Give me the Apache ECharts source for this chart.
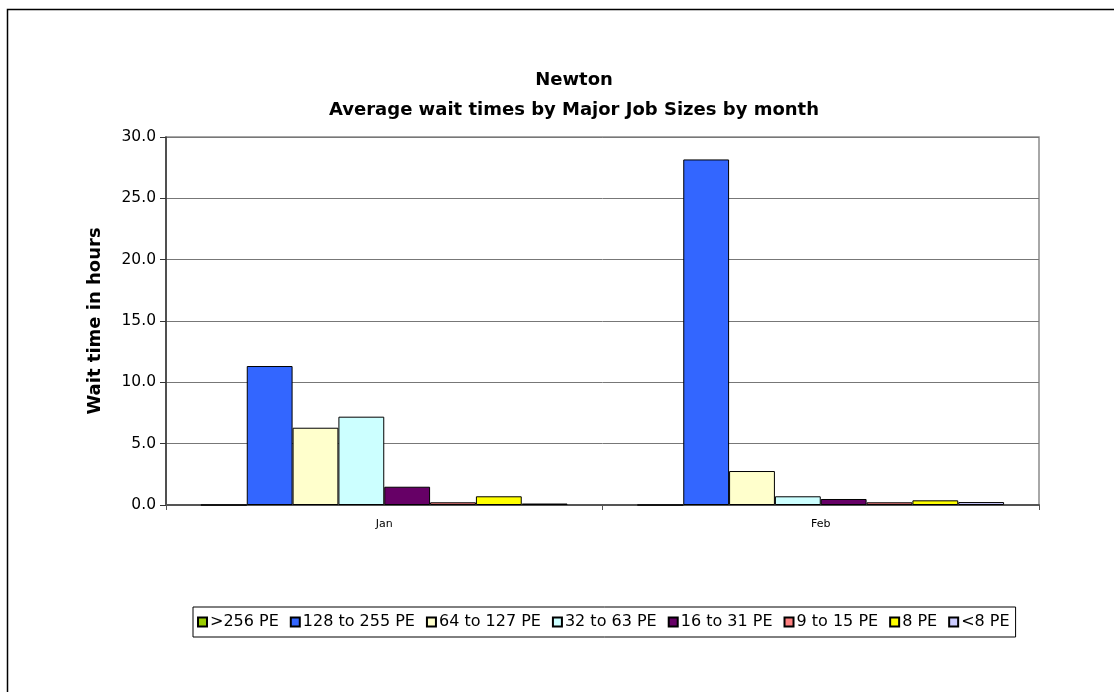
<!DOCTYPE html>
<html>
<head>
<meta charset="utf-8">
<script src="https://cdn.jsdelivr.net/npm/echarts@6/dist/echarts.min.js"></script>
<style>
html,body{margin:0;padding:0;background:#fff;}
#chart{width:1114px;height:692px;}
</style>
</head>
<body>
<div id="chart"></div>
<script>
const categories = ['Jan', 'Feb'];
const seriesNames = ['>256 PE', '128 to 255 PE', '64 to 127 PE', '32 to 63 PE', '16 to 31 PE', '9 to 15 PE', '8 PE', '<8 PE'];
const pe256 = [0, 0];
const pe128 = [11.33, 28.17];
const pe64 = [6.30, 2.77];
const pe32 = [7.20, 0.71];
const pe16 = [1.49, 0.49];
const pe9 = [0.22, 0.22];
const pe8 = [0.71, 0.38];
const peLt8 = [0.12, 0.24];
const yTicks = [0, 5, 10, 15, 20, 25, 30];
const titleLines = ['Newton', 'Average wait times by Major Job Sizes by month'];
const yAxisTitle = 'Wait time in hours';

const seriesData = [pe256, pe128, pe64, pe32, pe16, pe9, pe8, peLt8];
const colors = ['#99CC00', '#3366FF', '#FFFFCC', '#CCFFFF', '#660066', '#FF8080', '#FFFF00', '#CCCCFF'];
const FONT = '"DejaVu Sans", "Liberation Sans", Arial, sans-serif';

const chart = echarts.init(document.getElementById('chart'), null, {renderer: 'canvas'});
chart.setOption({
  backgroundColor: '#fff',
  animation: false,
  graphic: [
    {type: 'rect', shape: {x: 7.5, y: 9.5, width: 1120, height: 700}, style: {fill: 'none', stroke: '#000', lineWidth: 1.5}, z: -1},
    {type: 'text', x: 574, y: 80, style: {text: titleLines[0], align: 'center', verticalAlign: 'middle', font: 'bold 18px ' + FONT, fill: '#000'}},
    {type: 'text', x: 574, y: 110, style: {text: titleLines[1], align: 'center', verticalAlign: 'middle', font: 'bold 18px ' + FONT, fill: '#000'}}
  ],
  grid: {left: 166, right: 75, top: 137, bottom: 187, show: true, borderColor: '#8c8c8c', borderWidth: 1.5, backgroundColor: '#fff'},
  legend: {
    data: seriesNames,
    left: 193, top: 607,
    padding: [7, 6, 7, 4],
    itemGap: 11,
    itemWidth: 9, itemHeight: 9,
    icon: 'rect',
    borderColor: '#000', borderWidth: 1,
    backgroundColor: '#fff',
    textStyle: {fontFamily: FONT, fontSize: 16, color: '#000', padding: [0, 0, 0, -2]}
  },
  xAxis: {
    type: 'category',
    data: categories,
    axisLine: {lineStyle: {color: '#555', width: 2}},
    axisTick: {show: true, length: 5, inside: false, lineStyle: {color: '#555'}},
    axisLabel: {fontFamily: FONT, fontSize: 11, color: '#000', margin: 14}
  },
  yAxis: {
    type: 'value',
    min: yTicks[0], max: yTicks[yTicks.length - 1], interval: 5,
    name: yAxisTitle,
    nameLocation: 'middle',
    nameGap: 62,
    nameTextStyle: {fontFamily: FONT, fontSize: 18, fontWeight: 'bold', color: '#000'},
    axisLine: {show: true, lineStyle: {color: '#333', width: 1.5}},
    axisTick: {show: true, length: 6, lineStyle: {color: '#333'}},
    axisLabel: {fontFamily: FONT, fontSize: 15.5, color: '#000', margin: 10, formatter: v => v.toFixed(1)},
    splitLine: {lineStyle: {color: '#777', width: 1}}
  },
  series: seriesNames.map((n, i) => ({
    name: n,
    type: 'bar',
    data: seriesData[i],
    barGap: '0%',
    barCategoryGap: '16%',
    itemStyle: {color: colors[i], borderColor: '#000', borderWidth: 1}
  }))
});
</script>
</body>
</html>
